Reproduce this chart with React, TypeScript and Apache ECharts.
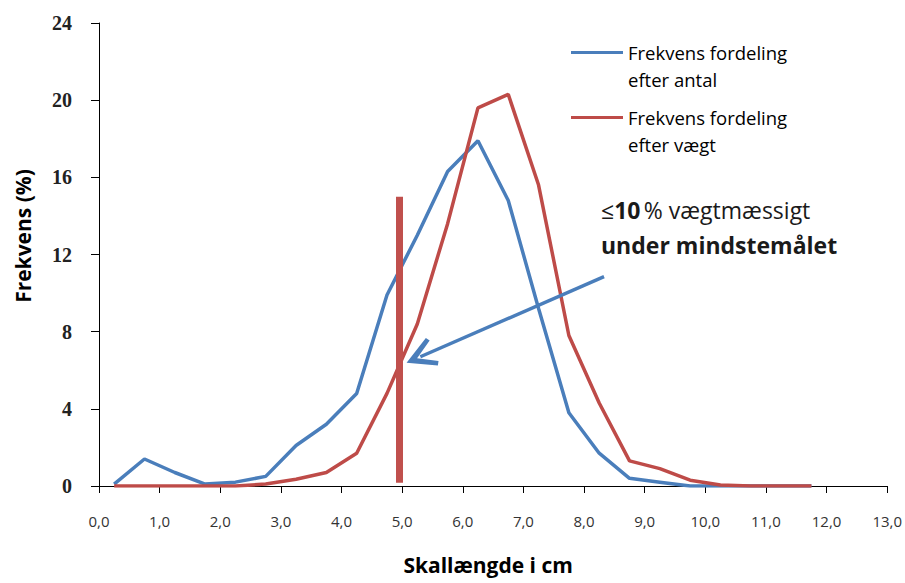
import React, { useEffect, useRef } from "react";
import * as echarts from "echarts";

// Class centres (cm)
const xCenters = [0.25, 0.75, 1.25, 1.75, 2.25, 2.75, 3.25, 3.75, 4.25, 4.75, 5.25, 5.75, 6.25, 6.75, 7.25, 7.75, 8.25, 8.75, 9.25, 9.75, 10.25, 10.75, 11.25, 11.75];
// Frekvens fordeling efter antal (%)
const antal = [0.1, 1.4, 0.7, 0.1, 0.2, 0.5, 2.1, 3.2, 4.8, 9.9, 13.0, 16.3, 17.9, 14.8, 9.2, 3.8, 1.7, 0.4, 0.2, 0.0, 0.0, 0.0, 0.0, 0.0];
// Frekvens fordeling efter vægt (%)
const vaegt = [0.0, 0.0, 0.0, 0.0, 0.0, 0.1, 0.35, 0.7, 1.7, 4.8, 8.4, 13.6, 19.6, 20.3, 15.6, 7.8, 4.3, 1.3, 0.9, 0.3, 0.05, 0.0, 0.0, 0.0];

const nameAntal = "Frekvens fordeling efter antal";
const nameVaegt = "Frekvens fordeling efter vægt";

// Minimum size line (mindstemål) and arrow, data coordinates
const mindsteX = 4.95;
const mindsteRange = [0.17, 15.0];
const arrowFrom = [8.33, 10.85];
const arrowTo = [5.3, 6.7];

const BLUE = "#4A7EBB";
const RED = "#BE4B48";
const SANS = "'Open Sans', 'Noto Sans', sans-serif";

export default function App() {
  const ref = useRef<HTMLDivElement>(null);
  useEffect(() => {
    if (!ref.current) return;
    const chart = echarts.init(ref.current, null, { renderer: "svg" });
    const legendText = {
      fontFamily: SANS,
      fontSize: 18.5,
      lineHeight: 27,
      color: "#000",
    };
    const fmt = (n: string) => "\n" + n.replace("fordeling ", "fordeling\n");
    const legendBase = {
      orient: "vertical",
      padding: 0,
      icon: "rect",
      itemWidth: 52,
      itemHeight: 3,
      formatter: fmt,
      textStyle: legendText,
    };
    chart.setOption({
      animation: false,
      backgroundColor: "#fff",
      grid: { left: 99, right: 17, top: 23, bottom: 97, containLabel: false },
      legend: [
        { ...legendBase, data: [nameAntal], left: 571, top: 12 },
        { ...legendBase, data: [nameVaegt], left: 571, top: 77 },
      ],
      xAxis: {
        type: "value",
        min: 0,
        max: 13,
        interval: 1,
        name: "Skallængde i cm",
        nameLocation: "middle",
        nameGap: 68,
        nameTextStyle: { fontFamily: SANS, fontSize: 21, fontWeight: "bold", color: "#000", padding: [0, 10, 0, 0] },
        axisLine: { lineStyle: { color: "#000", width: 1 } },
        axisTick: { show: true, length: 7, lineStyle: { color: "#000" } },
        splitLine: { show: false },
        axisLabel: {
          margin: 27,
          fontFamily: SANS,
          fontSize: 15,
          color: "#333",
          formatter: (v: number) => v.toFixed(1).replace(".", ","),
        },
      },
      yAxis: {
        type: "value",
        min: 0,
        max: 24,
        interval: 4,
        name: "Frekvens (%)",
        nameLocation: "middle",
        nameGap: 66,
        nameTextStyle: {
          fontFamily: SANS,
          fontSize: 21,
          fontWeight: "bold",
          color: "#000",
          padding: [0, 0, 0, 37],
        },
        axisLine: { show: true, lineStyle: { color: "#000", width: 1 } },
        axisTick: { show: true, length: 8, lineStyle: { color: "#000" } },
        splitLine: { show: false },
        axisLabel: {
          margin: 27,
          fontFamily: "'Liberation Serif', 'DejaVu Serif', serif",
          fontSize: 20,
          fontWeight: "bold",
          color: "#222",
        },
      },
      series: [
        {
          name: nameAntal,
          type: "line",
          data: xCenters.map((x, i) => [x, antal[i]]),
          showSymbol: false,
          symbol: "none",
          lineStyle: { color: BLUE, width: 3.5 },
          itemStyle: { color: BLUE },
          markLine: {
            silent: true,
            symbol: ["none", "path://M10,0 L20,18 L17.4,19.6 L10,7.5 L2.6,19.6 L0,18 Z"],
            symbolSize: [30, 30],
            label: { show: false },
            lineStyle: { color: BLUE, width: 3.5, type: "solid" },
            data: [[{ coord: arrowFrom }, { coord: arrowTo }]],
          },
        },
        {
          name: nameVaegt,
          type: "line",
          data: xCenters.map((x, i) => [x, vaegt[i]]),
          showSymbol: false,
          symbol: "none",
          lineStyle: { color: RED, width: 3.5 },
          itemStyle: { color: RED },
          markLine: {
            silent: true,
            symbol: ["none", "none"],
            label: { show: false },
            lineStyle: { color: "#C0504D", width: 7, type: "solid" },
            data: [[{ coord: [mindsteX, mindsteRange[0]] }, { coord: [mindsteX, mindsteRange[1]] }]],
          },
        },
      ],
      graphic: [
        {
          type: "text",
          left: 601,
          top: 198,
          style: {
            text: "{a|≤}{b|10} {a|% vægtmæssigt}\n{b|under mindstemålet}",
            rich: {
              a: { fontFamily: SANS, fontSize: 23, fontWeight: 500, fill: "#1a1a1a", lineHeight: 35 },
              b: { fontFamily: SANS, fontSize: 23, fontWeight: "bold", fill: "#1a1a1a", lineHeight: 35 },
            },
          },
        },
      ],
    });
    return () => chart.dispose();
  }, []);
  return (
    <div
      ref={ref}
      style={{ position: "fixed", left: 0, top: 0, width: 905, height: 583 }}
    />
  );
}
